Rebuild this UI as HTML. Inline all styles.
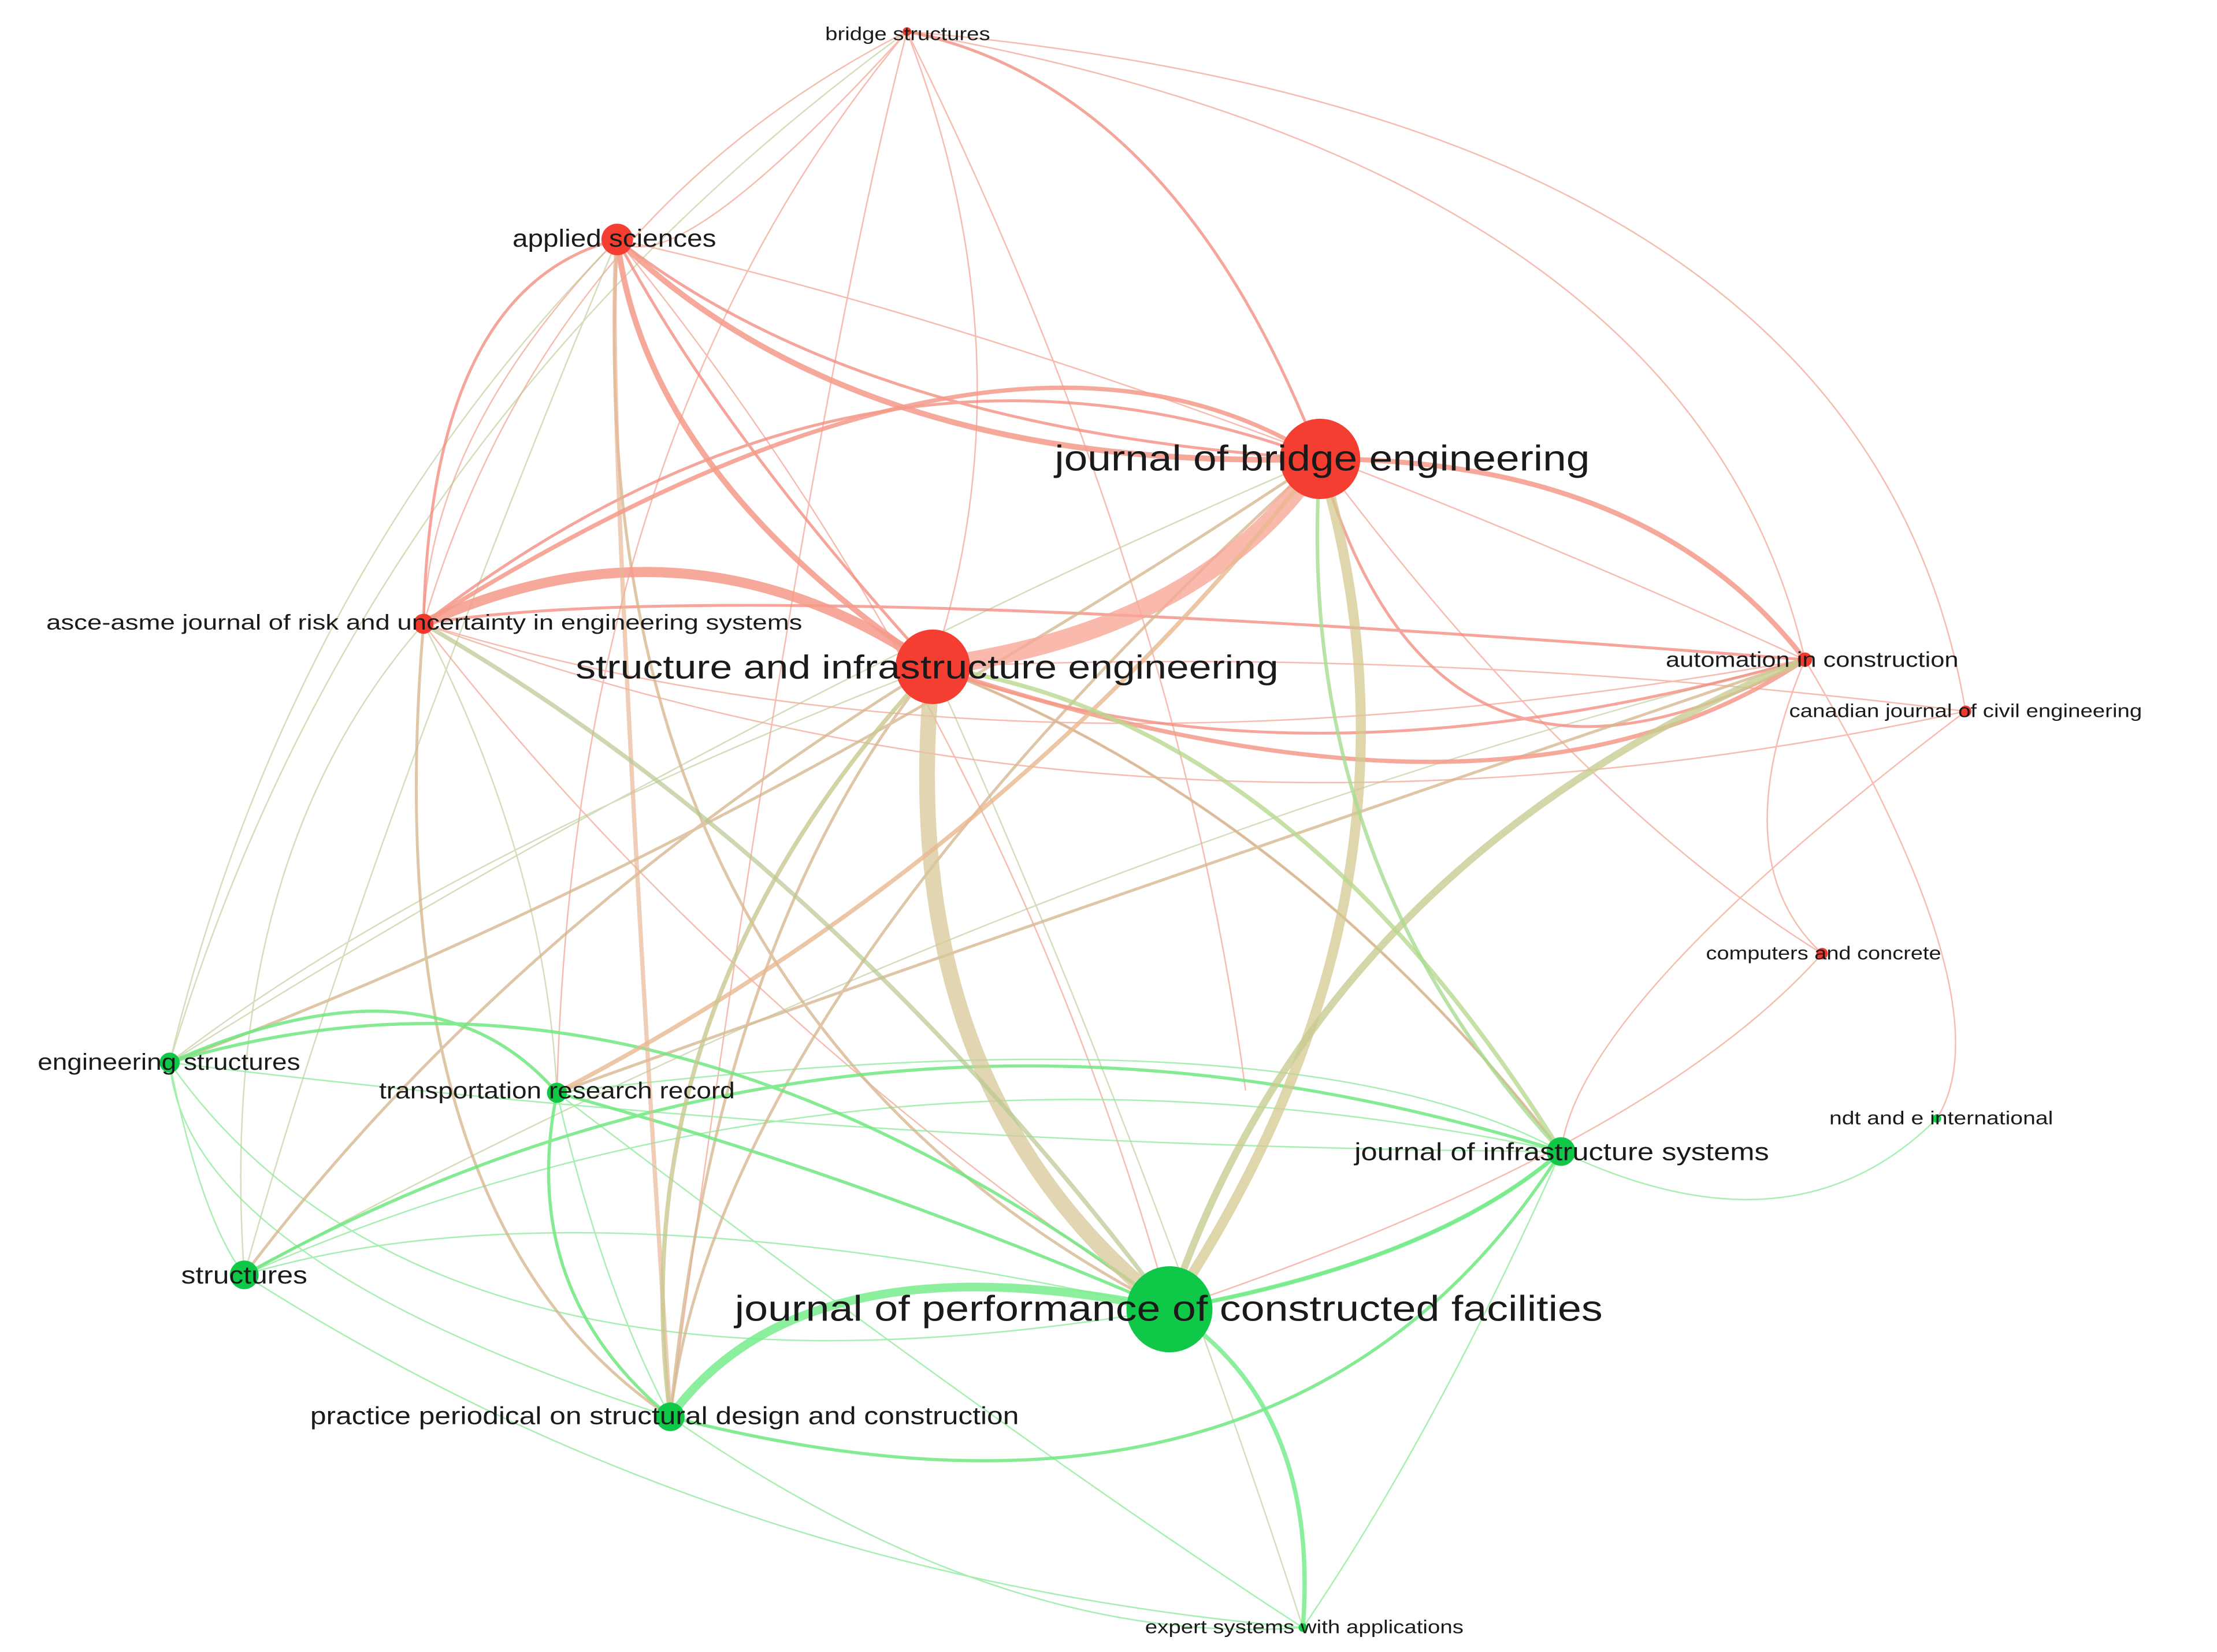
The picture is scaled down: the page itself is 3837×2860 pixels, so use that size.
<!DOCTYPE html>
<html><head><meta charset="utf-8"><style>
html,body{margin:0;padding:0;background:#fff;}
svg{display:block}
text{font-family:"Liberation Sans",sans-serif;fill:#1a1a1a;}
</style></head><body>
<svg width="3837" height="2860" viewBox="0 0 1545 1152" xmlns="http://www.w3.org/2000/svg">
<rect width="1545" height="1152" fill="#fff"/>
<g fill="none" stroke-linecap="round">
<!-- thin background edges -->
<g stroke="#f4a090" stroke-width="1" opacity="0.7">
<path d="M632,22 Q380,150 295,435"/>
<path d="M632,22 Q720,250 650,465"/>
<path d="M632,22 Q470,200 430,167"/>
<path d="M632,22 Q1180,120 1258,460"/>
<path d="M632,22 Q1300,80 1370,496"/>
<path d="M632,22 Q560,300 467,988"/>
<path d="M632,22 Q820,400 868,760"/>
<path d="M632,22 Q400,300 388,762"/>
<path d="M430,167 Q800,250 1258,460"/>
<path d="M430,167 Q300,300 295,435"/>
<path d="M430,167 Q700,500 815,913"/>
<path d="M295,435 Q700,560 1258,460"/>
<path d="M295,435 Q800,620 1370,496"/>
<path d="M295,435 Q500,700 815,913"/>
<path d="M650,465 Q1000,450 1370,496"/>
<path d="M920,320 Q1100,560 1270,665"/>
<path d="M650,465 Q900,560 1088,803"/>
<path d="M1258,460 Q1200,600 1270,665"/>
<path d="M1370,496 Q1100,700 1088,803"/>
<path d="M1270,665 Q1150,800 815,913"/>
<path d="M1258,460 Q1400,700 1350,780"/>
</g>
<g stroke="#b8c890" stroke-width="1" opacity="0.6">
<path d="M430,167 Q200,400 118,741"/>
<path d="M430,167 Q250,600 170,889"/>
<path d="M632,22 Q250,300 118,741"/>
<path d="M295,435 Q150,600 170,889"/>
<path d="M650,465 Q300,600 118,741"/>
<path d="M920,320 Q500,500 118,741"/>
<path d="M1258,460 Q700,600 170,889"/>
<path d="M650,465 Q800,800 908,1135"/>
<path d="M295,435 Q380,600 388,762"/>
</g>
<g stroke="#90ec9e" stroke-width="1" opacity="0.8">
<path d="M118,741 Q130,880 467,988"/>
<path d="M118,741 Q140,850 170,889"/>
<path d="M118,741 Q600,800 1088,803"/>
<path d="M170,889 Q500,1100 908,1135"/>
<path d="M118,741 Q300,1000 815,913"/>
<path d="M388,762 Q900,700 1088,803"/>
<path d="M388,762 Q700,1000 908,1135"/>
<path d="M170,889 Q600,700 1088,803"/>
<path d="M1088,803 Q1250,880 1350,780"/>
<path d="M1088,803 Q1000,1000 908,1135"/>
<path d="M467,988 Q700,1150 908,1135"/>
<path d="M170,889 Q400,820 815,913"/>
<path d="M388,762 Q420,900 467,988"/>
</g>
<!-- medium edges -->
<g stroke="#f2887a" stroke-width="2" opacity="0.75">
<path d="M632,22 Q820,60 920,320"/>
<path d="M430,167 Q600,300 920,320"/>
<path d="M295,435 Q300,200 430,167"/>
<path d="M295,435 Q600,200 920,320"/>
<path d="M650,465 Q900,560 1258,460"/>
<path d="M920,320 Q1000,600 1258,460"/>
<path d="M295,435 Q500,400 1258,460"/>
<path d="M430,167 Q500,300 650,465"/>
</g>
<g stroke="#d6b890" stroke-width="2" opacity="0.8">
<path d="M430,167 Q400,700 815,913"/>
<path d="M295,435 Q260,850 467,988"/>
<path d="M650,465 Q350,650 170,889"/>
<path d="M920,320 Q500,600 118,741"/>
<path d="M1258,460 Q700,650 388,762"/>
<path d="M920,320 Q500,700 467,988"/>
<path d="M650,465 Q500,650 467,988"/>
<path d="M650,465 Q900,560 1088,803"/>
</g>
<g stroke="#70e880" stroke-width="2.2" opacity="0.85">
<path d="M118,741 Q450,640 815,913"/>
<path d="M388,762 Q600,820 815,913"/>
<path d="M170,889 Q600,650 1088,803"/>
<path d="M467,988 Q900,1100 1088,803"/>
<path d="M815,913 Q1000,880 1088,803"/>
<path d="M388,762 Q360,900 467,988"/>
<path d="M118,741 Q300,660 388,762"/>
</g>
<!-- thick edges -->
<path d="M295,435 Q480,350 650,465" stroke="#f59a88" stroke-width="7" opacity="0.85"/>
<path d="M430,167 Q600,330 920,320" stroke="#f59a88" stroke-width="4" opacity="0.85"/>
<path d="M430,167 Q450,330 650,465" stroke="#f59a88" stroke-width="4" opacity="0.85"/>
<path d="M430,167 Q420,260 467,988" stroke="#e8b898" stroke-width="3" opacity="0.7"/>
<path d="M920,320 Q1150,320 1258,460" stroke="#f59a88" stroke-width="3.5" opacity="0.85"/>
<path d="M650,465 Q1050,600 1258,460" stroke="#f59a88" stroke-width="3" opacity="0.85"/>
<path d="M295,435 Q700,180 920,320" stroke="#f59a88" stroke-width="3" opacity="0.85"/>
<path d="M650,465 Q840,440 920,320" stroke="#f8a898" stroke-width="13" opacity="0.8"/>
<path d="M650,465 Q620,760 815,913" stroke="#d8c898" stroke-width="11" opacity="0.75"/>
<path d="M920,320 Q1010,620 815,913" stroke="#d4c890" stroke-width="7" opacity="0.75"/>
<path d="M1258,460 Q920,600 815,913" stroke="#c8cc90" stroke-width="5" opacity="0.8"/>
<path d="M920,320 Q700,600 388,762" stroke="#e8b890" stroke-width="3" opacity="0.8"/>
<path d="M650,465 Q430,700 467,988" stroke="#c8c890" stroke-width="3" opacity="0.8"/>
<path d="M650,465 Q900,500 1088,803" stroke="#b8d890" stroke-width="3" opacity="0.8"/>
<path d="M295,435 Q580,600 815,913" stroke="#b8c890" stroke-width="3" opacity="0.7"/>
<path d="M467,988 Q560,860 815,913" stroke="#78ec8c" stroke-width="6" opacity="0.85"/>
<path d="M815,913 Q920,980 908,1135" stroke="#78ec8c" stroke-width="3" opacity="0.85"/>
<path d="M815,913 Q1000,880 1088,803" stroke="#78ec8c" stroke-width="3" opacity="0.85"/>
<path d="M920,320 Q900,600 1088,803" stroke="#a8dc90" stroke-width="2.5" opacity="0.8"/>
</g>
<!-- nodes -->
<g>
<circle cx="632" cy="22" r="3" fill="#f03a30"/>
<circle cx="430" cy="167" r="11" fill="#f53e32"/>
<circle cx="920" cy="320" r="28" fill="#f53e32"/>
<circle cx="295" cy="435" r="7" fill="#f03a30"/>
<circle cx="650" cy="465" r="26" fill="#f53e32"/>
<circle cx="1258" cy="460" r="5" fill="#f03a30"/>
<circle cx="1370" cy="496" r="4" fill="#f03a30"/>
<circle cx="1270" cy="665" r="4" fill="#f03a30"/>
<circle cx="1350" cy="780" r="3" fill="#10d050"/>
<circle cx="118" cy="741" r="7" fill="#10c848"/>
<circle cx="388" cy="762" r="7" fill="#10c848"/>
<circle cx="1088" cy="803" r="10" fill="#10c848"/>
<circle cx="170" cy="889" r="10" fill="#10c848"/>
<circle cx="815" cy="913" r="30" fill="#10c848"/>
<circle cx="467" cy="988" r="10" fill="#10c848"/>
<circle cx="908" cy="1135" r="3" fill="#10c848"/>
</g>
<!-- labels -->
<g>
<text x="575" y="28" font-size="13" textLength="115" lengthAdjust="spacingAndGlyphs">bridge structures</text>
<text x="357" y="172" font-size="17" textLength="142" lengthAdjust="spacingAndGlyphs">applied sciences</text>
<text x="735" y="328" font-size="25" textLength="373" lengthAdjust="spacingAndGlyphs">journal of bridge engineering</text>
<text x="32" y="439" font-size="15" textLength="527" lengthAdjust="spacingAndGlyphs">asce-asme journal of risk and uncertainty in engineering systems</text>
<text x="401" y="473" font-size="23" textLength="490" lengthAdjust="spacingAndGlyphs">structure and infrastructure engineering</text>
<text x="1161" y="465" font-size="15" textLength="204" lengthAdjust="spacingAndGlyphs">automation in construction</text>
<text x="1247" y="500" font-size="13" textLength="246" lengthAdjust="spacingAndGlyphs">canadian journal of civil engineering</text>
<text x="1189" y="669" font-size="13" textLength="164" lengthAdjust="spacingAndGlyphs">computers and concrete</text>
<text x="1275" y="784" font-size="13" textLength="156" lengthAdjust="spacingAndGlyphs">ndt and e international</text>
<text x="26" y="746" font-size="16" textLength="183" lengthAdjust="spacingAndGlyphs">engineering structures</text>
<text x="264" y="766" font-size="16" textLength="248" lengthAdjust="spacingAndGlyphs">transportation research record</text>
<text x="944" y="809" font-size="17" textLength="289" lengthAdjust="spacingAndGlyphs">journal of infrastructure systems</text>
<text x="126" y="895" font-size="17" textLength="88" lengthAdjust="spacingAndGlyphs">structures</text>
<text x="512" y="921" font-size="25" textLength="605" lengthAdjust="spacingAndGlyphs">journal of performance of constructed facilities</text>
<text x="216" y="993" font-size="17" textLength="494" lengthAdjust="spacingAndGlyphs">practice periodical on structural design and construction</text>
<text x="798" y="1139" font-size="13" textLength="222" lengthAdjust="spacingAndGlyphs">expert systems with applications</text>
</g>
</svg>
</body></html>
